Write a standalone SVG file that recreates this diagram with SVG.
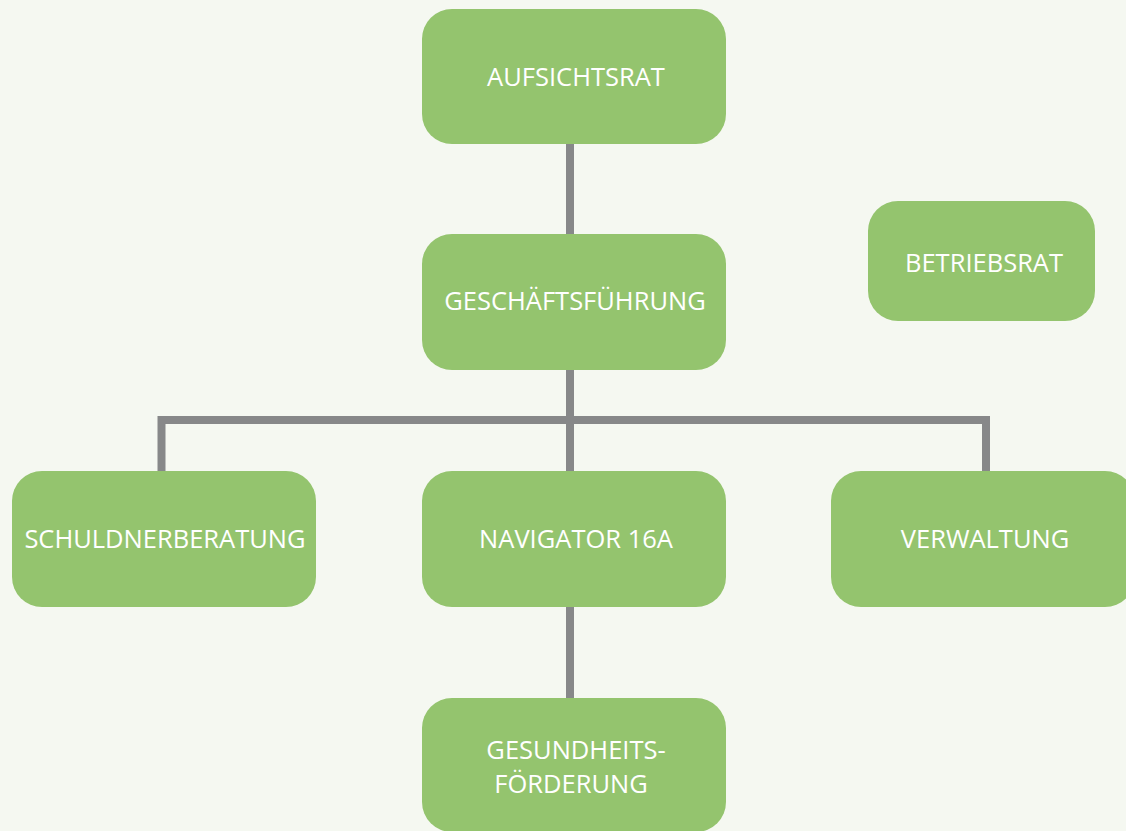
<svg xmlns="http://www.w3.org/2000/svg" width="1126" height="831" viewBox="0 0 1126 831">
<style>
.box{fill:#94c46e}
.lbl{font-family:"Open Sans","Liberation Sans",sans-serif;font-size:25.5px;fill:#ffffff;text-anchor:middle}
.con{stroke:#878889;stroke-width:8;fill:none}
</style>
<rect width="1126" height="831" fill="#f5f8f1"/>
<g id="connectors">
<line class="con" x1="570" y1="140" x2="570" y2="238"/>
<line class="con" x1="570" y1="366" x2="570" y2="475"/>
<polyline class="con" points="161.5,471 161.5,420 986,420 986,477"/>
<line class="con" x1="570" y1="603" x2="570" y2="702"/>
</g>
<g id="aufsichtsrat"><rect class="box" x="422" y="9" width="304" height="135" rx="30"/><text class="lbl" x="576" y="86">AUFSICHTSRAT</text></g>
<g id="geschaeftsfuehrung"><rect class="box" x="422" y="234" width="304" height="136" rx="30"/><text class="lbl" x="575" y="310">GESCHÄFTSFÜHRUNG</text></g>
<g id="betriebsrat"><rect class="box" x="868" y="201" width="227" height="120" rx="30"/><text class="lbl" x="984" y="272">BETRIEBSRAT</text></g>
<g id="schuldnerberatung"><rect class="box" x="12" y="471" width="304" height="136" rx="30"/><text class="lbl" x="165" y="548">SCHULDNERBERATUNG</text></g>
<g id="navigator"><rect class="box" x="422" y="471" width="304" height="136" rx="30"/><text class="lbl" x="576" y="548">NAVIGATOR 16A</text></g>
<g id="verwaltung"><rect class="box" x="831" y="471" width="304" height="136" rx="30"/><text class="lbl" x="985" y="548">VERWALTUNG</text></g>
<g id="gesundheitsfoerderung"><rect class="box" x="422" y="698" width="304" height="134" rx="30"/><text class="lbl" x="576" y="759">GESUNDHEITS-</text><text class="lbl" x="571" y="793">FÖRDERUNG</text></g>
</svg>
